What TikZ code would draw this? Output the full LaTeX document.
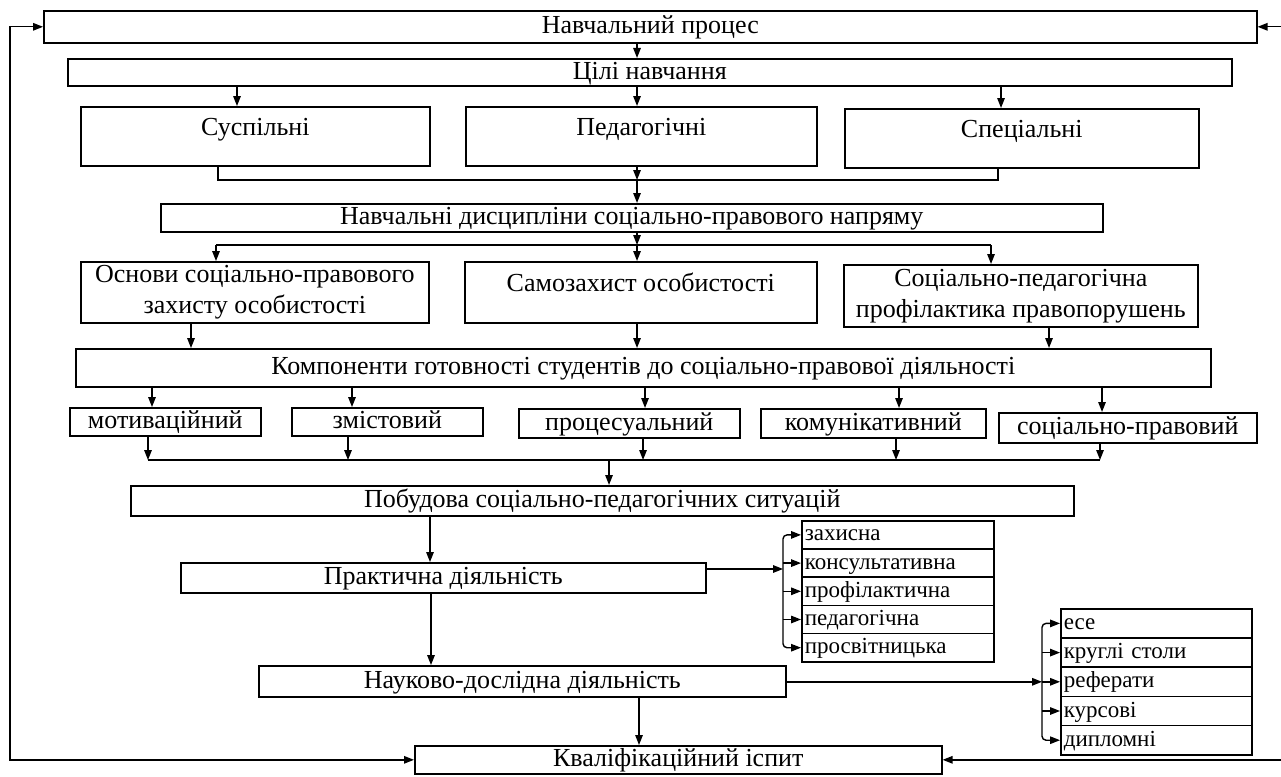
\documentclass[tikz,border=0pt]{standalone}
\usepackage{fontspec}
\setmainfont{Liberation Serif}
\usetikzlibrary{arrows.meta}

\tikzset{
  base/.style={draw, line width=1.6pt, anchor=north west, inner sep=0pt, align=center,
    font=\fontsize{26}{31}\selectfont},
  box/.style={base, text height=20pt, text depth=6pt},
  tall/.style={base, text height=18pt, text depth=20pt},
  row/.style={draw, line width=1.6pt, anchor=north west, inner xsep=3pt, inner ysep=0pt,
    text width=186pt, text height=17pt, text depth=5pt, align=left,
    font=\fontsize{23}{25}\selectfont},
  arr/.style={line width=1.4pt, -{Triangle[length=10pt,width=7.5pt]}},
  both/.style={line width=1.4pt, {Triangle[length=10pt,width=7.5pt]}-{Triangle[length=10pt,width=7.5pt]}},
  line/.style={line width=1.4pt},
}

\begin{document}
\begin{tikzpicture}[x=1pt,y=-1pt]
    \useasboundingbox (0,0) rectangle (1281,776);

    % draw boxes
    \node[box, minimum width=1213pt, minimum height=32pt] (proc) at (43,10) {Навчальний процес};
    \node[box, minimum width=1164pt, minimum height=27pt] (goals) at (67,58) {Цілі навчання};

    \node[tall, minimum width=349pt, minimum height=59pt] (soc) at (80,106) {Суспільні};
    \node[tall, minimum width=351pt, minimum height=59pt] (ped) at (465,106) {Педагогічні};
    \node[tall, minimum width=354pt, minimum height=59pt] (spec) at (844,108) {Спеціальні};

    \node[box, minimum width=942pt, minimum height=28pt] (disc) at (160,203) {Навчальні дисципліни соціально-правового напряму};

    \node[base, minimum width=348pt, minimum height=61pt] (osn) at (80,261) {Основи соціально-правового\\захисту особистості};
    \node[tall, minimum width=352pt, minimum height=61pt] (samo) at (464,261) {Самозахист особистості};
    \node[base, minimum width=354pt, minimum height=62pt] (prof) at (843,264) {Соціально-педагогічна\\профілактика правопорушень};

    \node[box, minimum width=1135pt, minimum height=38pt] (komp) at (75,348) {Компоненти готовності студентів до соціально-правової діяльності};

    \node[box, minimum width=191pt, minimum height=28pt] (motiv) at (69,407) {мотиваційний};
    \node[box, minimum width=191pt, minimum height=28pt] (zmist) at (291,407) {змістовий};
    \node[box, minimum width=221pt, minimum height=29pt] (procs) at (518,408) {процесуальний};
    \node[box, minimum width=225pt, minimum height=29pt] (komun) at (760,408) {комунікативний};
    \node[box, minimum width=258pt, minimum height=30pt] (socpr) at (998,412) {соціально-правовий};

    \node[box, minimum width=943pt, minimum height=30pt] (pob) at (130,485) {Побудова соціально-педагогічних ситуацій};
    \node[box, minimum width=525pt, minimum height=30pt] (prakt) at (180,562) {Практична діяльність};
    \node[box, minimum width=527pt, minimum height=31pt] (nauk) at (258,665) {Науково-дослідна діяльність};
    \node[box, minimum width=527pt, minimum height=28pt] (kval) at (414,745) {Кваліфікаційний іспит};

    % draw stacks
    \foreach \t [count=\i] in {захисна, консультативна, профілактична, педагогічна, просвітницька}
    \node[row, minimum height=28.2pt] (z\i) at (801,{520+28.2*(\i-1)}) {\t};
    \foreach \t [count=\i] in {есе, круглі столи, реферати, курсові, дипломні}
    \node[row, text width=185pt, minimum height=29.2pt] (e\i) at (1060,{608+29.2*(\i-1)}) {\t};

    % junction points
    \coordinate (m1) at (637,180);
    \coordinate (m2) at (637,245);
    \coordinate (m3) at (609,460);
    \coordinate (b1) at (783,590);
    \coordinate (b2) at (1042,680);
    \coordinate (lft) at (10,0);
    \coordinate (rgt) at (1281,0);

    % draw arrows
    \draw[arr] (637,0 |- proc.south) -- (637,0 |- goals.north);
    \draw[arr] (237,0 |- goals.south) -- (237,0 |- soc.north);
    \draw[arr] (637,0 |- goals.south) -- (637,0 |- ped.north);
    \draw[arr] (1001,0 |- goals.south) -- (1001,0 |- spec.north);

    \draw[line] (218,0 |- soc.south) |- (m1) -| (998,0 |- spec.south);
    \draw[arr] (637,0 |- ped.south) -- (m1);
    \draw[arr] (m1) -- (637,0 |- disc.north);

    \draw[arr] (637,0 |- disc.south) -- (m2);
    \draw[line] (216,0 |- m2) -- (991,0 |- m2);
    \draw[arr] (216,0 |- m2) -- (216,0 |- osn.north);
    \draw[arr] (m2) -- (637,0 |- samo.north);
    \draw[arr] (991,0 |- m2) -- (991,0 |- prof.north);

    \draw[arr] (191,0 |- osn.south) -- (191,0 |- komp.north);
    \draw[arr] (637,0 |- samo.south) -- (637,0 |- komp.north);
    \draw[arr] (1049,0 |- prof.south) -- (1049,0 |- komp.north);

    \draw[arr] (152,0 |- komp.south) -- (152,0 |- motiv.north);
    \draw[arr] (352,0 |- komp.south) -- (352,0 |- zmist.north);
    \draw[arr] (645,0 |- komp.south) -- (645,0 |- procs.north);
    \draw[arr] (899,0 |- komp.south) -- (899,0 |- komun.north);
    \draw[arr] (1102,0 |- komp.south) -- (1102,0 |- socpr.north);

    \draw[arr] (148,0 |- motiv.south) -- (148,0 |- m3);
    \draw[arr] (348,0 |- zmist.south) -- (348,0 |- m3);
    \draw[arr] (643,0 |- procs.south) -- (643,0 |- m3);
    \draw[arr] (896,0 |- komun.south) -- (896,0 |- m3);
    \draw[arr] (1100,0 |- socpr.south) -- (1100,0 |- m3);
    \draw[line] (148,0 |- m3) -- (1100,0 |- m3);
    \draw[arr] (m3) -- (m3 |- pob.north);

    \draw[arr] (430,0 |- pob.south) -- (430,0 |- prakt.north);
    \draw[arr] (431,0 |- prakt.south) -- (431,0 |- nauk.north);
    \draw[arr] (639,0 |- nauk.south) -- (639,0 |- kval.north);

    % brackets to the stacks
    \draw[arr] (prakt.east |- 0,569) -- (b1 |- 0,569);
    \draw[arr, rounded corners=4pt] (b1) |- (z1.west);
    \draw[arr, rounded corners=4pt] (b1) |- (z5.west);
    \foreach \i in {2,3,4}
    \draw[arr] (b1 |- z\i.west) -- (z\i.west);

    \draw[arr] (nauk.east |- e3.west) -- (b2 |- e3.west);
    \draw[arr, rounded corners=4pt] (b2) |- (e1.west);
    \draw[arr, rounded corners=4pt] (b2) |- (e5.west);
    \foreach \i in {2,3,4}
    \draw[arr] (b2 |- e\i.west) -- (e\i.west);

    % feedback lines
    \draw[both] (proc.west) -- (proc.west -| lft) -- (kval.west -| lft) -- (kval.west);
    \draw[arr] (proc.east -| rgt) -- (proc.east);
    \draw[arr] (kval.east -| rgt) -- (kval.east);

\end{tikzpicture}
\end{document}
